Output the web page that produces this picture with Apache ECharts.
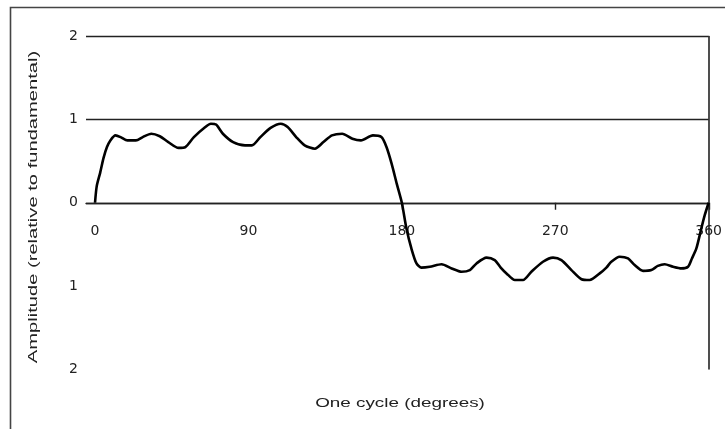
<!DOCTYPE html>
<html>
<head>
<meta charset="utf-8">
<script src="https://cdn.jsdelivr.net/npm/echarts@6/dist/echarts.min.js"></script>
<style>
html,body{margin:0;padding:0;background:#fff;}
#c{width:725px;height:429px;}
</style>
</head>
<body>
<div id="c"></div>
<script>
// x positions (degrees)
var degrees = [0, 1, 3, 5, 7, 9, 12, 15, 19, 24, 28, 33, 38, 43, 49, 53, 58, 64, 68, 71, 75, 81, 88, 92, 97, 103, 109, 113, 118, 123, 129, 134, 139, 145, 151, 156, 163, 168, 171, 174, 177, 180,
  182.7, 185.6, 188.6, 191.5, 196.4, 203.3, 209.2, 215, 219.9, 223.8, 229.7, 234.5, 238, 241.4, 246.3, 251.1, 256, 262.8, 268.7, 273.6, 279.5, 285.4, 290.2, 296.1, 300, 302.9, 307.8, 312.7, 316.6, 321.5, 326.4, 330.2, 334.2, 339.1, 344, 347.9, 350.2, 352.8, 355.7, 357.7, 360];
// amplitude (relative to fundamental)
var amplitude = [0, 0.2, 0.36, 0.54, 0.67, 0.75, 0.81, 0.79, 0.75, 0.75, 0.79, 0.83, 0.80, 0.73, 0.66, 0.67, 0.79, 0.90, 0.95, 0.94, 0.83, 0.73, 0.69, 0.69, 0.79, 0.90, 0.95, 0.91, 0.79, 0.69, 0.65, 0.73, 0.81, 0.83, 0.77, 0.75, 0.81, 0.79, 0.67, 0.47, 0.23, 0,
  -0.31, -0.55, -0.73, -0.78, -0.77, -0.74, -0.79, -0.83, -0.81, -0.73, -0.66, -0.69, -0.78, -0.85, -0.93, -0.93, -0.83, -0.71, -0.66, -0.69, -0.81, -0.92, -0.93, -0.85, -0.78, -0.71, -0.65, -0.67, -0.75, -0.82, -0.81, -0.76, -0.74, -0.77, -0.79, -0.77, -0.67, -0.55, -0.31, -0.15, 0];
var xTickLabels = [0, 90, 180, 270, 360];
var yTicks = [-2, -1, 0, 1, 2];
var xTitle = 'One cycle (degrees)';
var yTitle = 'Amplitude (relative to fundamental)';

var seriesData = degrees.map(function (d, i) { return [d, amplitude[i]]; });

var chartW = 725, chartH = 429;
var gridLeft = 86, gridRight = 16, gridTop = 36.5, gridBottom = 60;
var xMin = -5.3, xMax = 360;
var plotH = chartH - gridTop - gridBottom;
var plotW = chartW - gridLeft - gridRight;
// distance from bottom of plot to the zero line (value axis runs -2..2)
var zeroOffset = plotH * (0 - yTicks[0]) / (yTicks[yTicks.length - 1] - yTicks[0]);
// left edge of an overlay grid whose x range starts at 180 (used only for tick marks)
var tickGridLeft = gridLeft + plotW * (180 - xMin) / (xMax - xMin);

var chart = echarts.init(document.getElementById('c'));
chart.setOption({
  animation: false,
  backgroundColor: '#fff',
  grid: [
    { left: gridLeft, right: gridRight, top: gridTop, bottom: gridBottom, containLabel: false },
    { left: tickGridLeft, right: gridRight, top: gridTop, bottom: gridBottom, containLabel: false }
  ],
  xAxis: [{
    type: 'value',
    gridIndex: 0,
    position: 'bottom',
    offset: -zeroOffset,
    min: xMin,
    max: xMax,
    axisLine: { show: true, onZero: false, lineStyle: { color: '#222', width: 1.4 } },
    axisTick: { show: false },
    axisLabel: { customValues: xTickLabels, margin: 22, color: '#222', fontFamily: 'DejaVu Sans', fontSize: 14 },
    splitLine: { show: false }
  }, {
    type: 'value',
    gridIndex: 1,
    position: 'bottom',
    offset: -zeroOffset,
    min: 180,
    max: 360,
    interval: 90,
    axisLine: { show: false, onZero: false },
    axisTick: { show: true, length: 7, lineStyle: { color: '#222', width: 1.4 } },
    axisLabel: { show: false },
    splitLine: { show: false }
  }],
  yAxis: [{
    type: 'value',
    gridIndex: 0,
    min: yTicks[0],
    max: yTicks[yTicks.length - 1],
    interval: 1,
    axisLine: { show: false },
    axisTick: { show: false },
    axisLabel: { margin: 8, color: '#222', fontFamily: 'DejaVu Sans', fontSize: 14,
      formatter: function (v) { return String(Math.abs(v)); } },
    splitLine: { show: true, lineStyle: { color: ['rgba(0,0,0,0)', 'rgba(0,0,0,0)', '#222', '#222', '#222'], width: 1.4 } }
  }, {
    type: 'value',
    gridIndex: 0,
    position: 'right',
    min: yTicks[0],
    max: yTicks[yTicks.length - 1],
    interval: 1,
    axisLine: { show: true, lineStyle: { color: '#222', width: 1.6 } },
    axisTick: { show: false },
    axisLabel: { show: false },
    splitLine: { show: false }
  }, {
    type: 'value',
    gridIndex: 1,
    min: yTicks[0],
    max: yTicks[yTicks.length - 1],
    show: false
  }],
  graphic: [
    { type: 'rect', z: 0, shape: { x: 10.5, y: 7.5, width: 800, height: 500 }, style: { fill: 'none', stroke: '#444', lineWidth: 1.6 } },
    { type: 'text', x: 400, y: 403, scaleX: 1.45, style: { text: xTitle, font: '13px "Liberation Sans", Arial', fill: '#222', align: 'center', verticalAlign: 'middle' } },
    { type: 'text', x: 33, y: 207, rotation: Math.PI / 2, scaleX: 1.55, style: { text: yTitle, font: '13px "Liberation Sans", Arial', fill: '#222', align: 'center', verticalAlign: 'middle' } }
  ],
  series: [{
    type: 'line',
    xAxisIndex: 0,
    yAxisIndex: 0,
    data: seriesData,
    showSymbol: false,
    smooth: 0.25,
    lineStyle: { color: '#000', width: 2.6 },
    z: 5
  }]
});
</script>
</body>
</html>
